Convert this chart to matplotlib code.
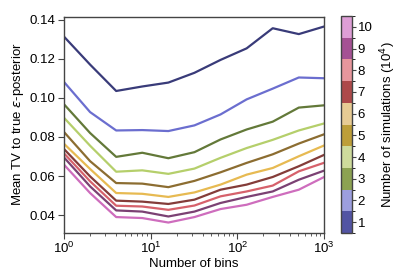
import numpy as np
import matplotlib
matplotlib.use("Agg")
import matplotlib.pyplot as plt
from matplotlib.colors import ListedColormap, BoundaryNorm
from matplotlib.cm import ScalarMappable

plt.rcParams['font.family'] = ['Liberation Sans', 'DejaVu Sans']
plt.rcParams['font.size'] = 9.5

# number of bins
bins = [1, 2, 4, 8, 16, 32, 64, 128, 256, 512, 1024]
# number of simulations (x 10^4)
n_sims = [1, 2, 3, 4, 5, 6, 7, 8, 9, 10]

tv_1 = [0.1313, 0.1170, 0.1035, 0.1058, 0.1078, 0.1128, 0.1194, 0.1253, 0.1356, 0.1326, 0.1366]
tv_2 = [0.1081, 0.0927, 0.0833, 0.0835, 0.0830, 0.0859, 0.0915, 0.0992, 0.1047, 0.1104, 0.1100]
tv_3 = [0.0967, 0.0820, 0.0698, 0.0719, 0.0691, 0.0722, 0.0787, 0.0838, 0.0878, 0.0950, 0.0962]
tv_4 = [0.0898, 0.0755, 0.0622, 0.0629, 0.0611, 0.0638, 0.0693, 0.0743, 0.0785, 0.0833, 0.0870]
tv_5 = [0.0825, 0.0676, 0.0564, 0.0561, 0.0543, 0.0575, 0.0619, 0.0667, 0.0711, 0.0766, 0.0815]
tv_6 = [0.0765, 0.0636, 0.0513, 0.0509, 0.0493, 0.0516, 0.0556, 0.0607, 0.0641, 0.0701, 0.0758]
tv_7 = [0.0738, 0.0598, 0.0474, 0.0469, 0.0457, 0.0479, 0.0530, 0.0556, 0.0595, 0.0650, 0.0710]
tv_8 = [0.0716, 0.0573, 0.0448, 0.0444, 0.0427, 0.0449, 0.0496, 0.0521, 0.0551, 0.0624, 0.0669]
tv_9 = [0.0695, 0.0547, 0.0424, 0.0418, 0.0393, 0.0418, 0.0462, 0.0493, 0.0521, 0.0581, 0.0629]
tv_10 = [0.0658, 0.0513, 0.0390, 0.0385, 0.0362, 0.0390, 0.0431, 0.0453, 0.0493, 0.0530, 0.0597]
series = [tv_1, tv_2, tv_3, tv_4, tv_5, tv_6, tv_7, tv_8, tv_9, tv_10]

tab = plt.get_cmap('tab20b').colors
line_colors = [tab[2 * i] for i in range(10)]
bar_colors = [tab[2 * i + 1] for i in range(10)]

fig = plt.figure(figsize=(4.15, 2.77), dpi=100)
ax = fig.add_axes([64 / 415, 1 - 232.7 / 277, 260 / 415, 216 / 277])

for vals, c in zip(series, line_colors):
    ax.plot(bins, vals, color=c, lw=1.6)

ax.set_xscale('log')
ax.set_xlim(1, 1000)
ax.set_ylim(0.031, 0.1415)
ax.set_yticks([0.04, 0.06, 0.08, 0.10, 0.12, 0.14])
ax.set_yticklabels(['0.04', '0.06', '0.08', '0.10', '0.12', '0.14'])
ax.set_xlabel('Number of bins', labelpad=1)
ax.set_ylabel(r'Mean TV to true $\varepsilon$-posterior', labelpad=3)
for s in ax.spines.values():
    s.set_color('#444444')
    s.set_linewidth(1.0)
ax.tick_params(which='both', direction='out', color='#444444')
ax.tick_params(which='major', length=4, pad=2)
ax.tick_params(which='minor', length=2.5)

cax = fig.add_axes([341 / 415, 1 - 233 / 277, 11 / 415, 217 / 277])
cmap = ListedColormap(bar_colors)
norm = BoundaryNorm(np.arange(0.5, 11, 1), cmap.N)
cb = fig.colorbar(ScalarMappable(norm=norm, cmap=cmap), cax=cax, ticks=n_sims)
cb.set_label(r'Number of simulations (10$^4$)', labelpad=4)
cb.outline.set_edgecolor('#444444')
cb.outline.set_linewidth(1.0)
cax.tick_params(length=3, pad=1, color='#444444')

fig.savefig('out.png', dpi=100)
